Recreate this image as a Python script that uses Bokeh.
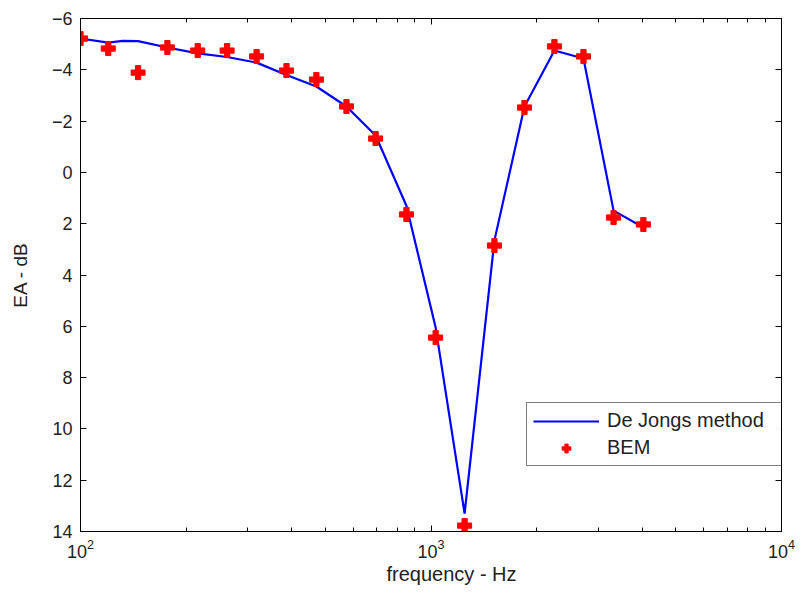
from bokeh.plotting import figure
from bokeh.models import Range1d, LogAxis, LinearAxis, Legend, LegendItem, FixedTicker, Title
from bokeh.embed import file_html
from bokeh.resources import INLINE

# BEM results (frequency in Hz, EA in dB)
freq_bem = [100, 120, 146, 177, 216, 262, 318, 387, 471, 574, 695, 851,
            1031, 1247, 1517, 1848, 2250, 2723, 3318, 4036]
ea_bem = [-5.22, -4.83, -3.89, -4.87, -4.75, -4.75, -4.52, -3.97, -3.62, -2.57,
          -1.32, 1.64, 6.44, 13.77, 2.85, -2.53, -4.91, -4.52, 1.76, 2.03]

# De Jongs method curve
freq_dj = [100, 120, 132, 146, 177, 216, 262, 318, 387, 471, 574, 695, 851,
           1031, 1247, 1517, 1848, 2250, 2723, 3318, 4036]
ea_dj = [-5.22, -5.06, -5.13, -5.12, -4.87, -4.64, -4.50, -4.28, -3.80, -3.35, -2.57,
         -1.44, 1.30, 6.05, 13.30, 2.65, -2.57, -4.75, -4.44, 1.49, 2.15]

y_ticks = [-6, -4, -2, 0, 2, 4, 6, 8, 10, 12, 14]
x_major = [100, 1000, 10000]
x_minor = [m * d for d in (100, 1000) for m in range(2, 10)]

FONT = "Liberation Sans"
TXT = "#222222"

p = figure(width=809, height=603, x_axis_type="log", output_backend="svg",
           toolbar_location=None,
           x_range=Range1d(100, 10000), y_range=Range1d(14, -6),
           min_border_left=80, min_border_right=28, min_border_top=18,
           min_border_bottom=72)

p.background_fill_color = "white"
p.border_fill_color = "white"
p.outline_line_color = "black"
p.outline_line_width = 1
p.grid.visible = False

ln = p.line(freq_dj, ea_dj, line_color="#0000ff", line_width=2.2)
mk = p.scatter(freq_bem, ea_bem, marker="plus", size=14, fill_color="#ff0000",
               line_color="#ff0000", line_width=1)

xt = FixedTicker(ticks=x_major, minor_ticks=x_minor)
yt = FixedTicker(ticks=y_ticks)

for ax in p.xaxis:
    ax.ticker = xt
for ax in p.yaxis:
    ax.ticker = yt

def style(ax, labels=True):
    ax.major_tick_in = 6
    ax.major_tick_out = 0
    ax.minor_tick_in = 4
    ax.minor_tick_out = 0
    ax.axis_line_color = "black"
    ax.major_tick_line_color = "black"
    ax.minor_tick_line_color = "black"
    ax.major_label_text_font = FONT
    ax.major_label_text_font_size = "18px"
    ax.major_label_text_color = TXT
    if not labels:
        ax.major_label_text_font_size = "0px"
        ax.major_label_text_alpha = 0

for ax in p.xaxis + p.yaxis:
    style(ax)

p.yaxis[0].minor_tick_in = 0
p.yaxis[0].axis_label = "EA - dB"
p.yaxis[0].axis_label_text_font = FONT
p.yaxis[0].axis_label_text_font_size = "19px"
p.yaxis[0].axis_label_text_font_style = "normal"
p.yaxis[0].axis_label_text_color = TXT
p.yaxis[0].axis_label_standoff = 18
p.xaxis[0].major_label_standoff = 7
p.yaxis[0].major_label_standoff = 8

# x axis title placed as a Title in the bottom panel (left-aligned with an offset)
xtitle = Title(text="frequency - Hz", align="left", offset=306, text_font=FONT,
               text_font_size="20px", text_font_style="normal", text_color=TXT,
               standoff=0)
p.add_layout(xtitle, "below")

top = LogAxis(ticker=xt)
right = LinearAxis(ticker=yt)
style(top, labels=False)
style(right, labels=False)
right.minor_tick_in = 0
p.add_layout(top, "above")
p.add_layout(right, "right")

legend = Legend(items=[LegendItem(label="De Jongs method", renderers=[ln]),
                       LegendItem(label="BEM", renderers=[mk])],
                location=(446, 65))
legend.label_text_font = FONT
legend.label_text_font_size = "20px"
legend.label_text_color = TXT
legend.border_line_color = "black"
legend.border_line_width = 1
legend.glyph_width = 66
legend.glyph_height = 22
legend.label_height = 22
legend.label_width = 168
legend.spacing = 4
legend.padding = 6
legend.margin = 0
legend.label_standoff = 8
p.add_layout(legend, "center")

open("out.html", "w").write(file_html(p, INLINE))
